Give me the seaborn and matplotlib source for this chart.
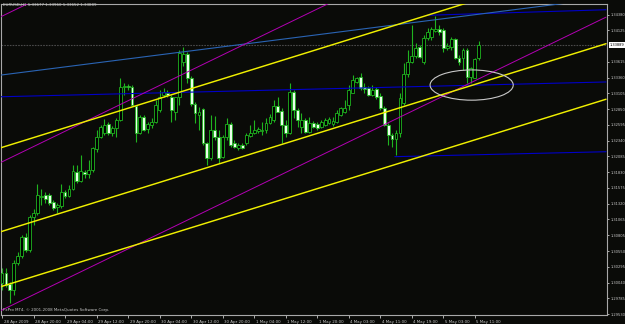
import matplotlib
matplotlib.use("Agg")
import numpy as np
import pandas as pd
import seaborn as sns
import matplotlib.pyplot as plt
import matplotlib.transforms as mtransforms
from matplotlib import font_manager
from matplotlib.patches import Ellipse

# ---------------- data (EURUSD H1) ----------------
opens = [1.3004, 1.3020, 1.3002, 1.2992, 1.3036, 1.3047, 1.3078, 1.3057, 1.3110, 1.3117,
         1.3143, 1.3146, 1.3146, 1.3135, 1.3127, 1.3128, 1.3151, 1.3144, 1.3156, 1.3183,
         1.3169, 1.3183, 1.3180, 1.3187, 1.3220, 1.3240, 1.3247, 1.3261, 1.3247, 1.3255,
         1.3268, 1.3321, 1.3323, 1.3321, 1.3290, 1.3247, 1.3272, 1.3253, 1.3260, 1.3264,
         1.3284, 1.3308, 1.3311, 1.3305, 1.3281, 1.3305, 1.3362, 1.3375, 1.3336, 1.3293,
         1.3276, 1.3285, 1.3230, 1.3206, 1.3251, 1.3240, 1.3208, 1.3240, 1.3261, 1.3230,
         1.3222, 1.3227, 1.3230, 1.3242, 1.3247, 1.3250, 1.3250, 1.3251, 1.3263, 1.3268,
         1.3290, 1.3282, 1.3260, 1.3247, 1.3313, 1.3284, 1.3256, 1.3268, 1.3248, 1.3263,
         1.3261, 1.3256, 1.3260, 1.3263, 1.3261, 1.3264, 1.3276, 1.3281, 1.3292, 1.3311,
         1.3329, 1.3337, 1.3321, 1.3319, 1.3308, 1.3318, 1.3306, 1.3287, 1.3260, 1.3243,
         1.3237, 1.3247, 1.3295, 1.3342, 1.3362, 1.3371, 1.3386, 1.3362, 1.3400, 1.3402,
         1.3412, 1.3415, 1.3413, 1.3384, 1.3386, 1.3399, 1.3368, 1.3368, 1.3381, 1.3337,
         1.3336, 1.33677]
highs = [1.3028, 1.3028, 1.3005, 1.3041, 1.3054, 1.3081, 1.3085, 1.3114, 1.3123, 1.3164,
         1.3156, 1.3151, 1.3149, 1.3138, 1.3133, 1.3164, 1.3154, 1.3162, 1.3195, 1.3195,
         1.3211, 1.3187, 1.3203, 1.3224, 1.3251, 1.3260, 1.3269, 1.3264, 1.3258, 1.3271,
         1.3336, 1.3328, 1.3326, 1.3324, 1.3292, 1.3276, 1.3276, 1.3264, 1.3271, 1.3300,
         1.3316, 1.3319, 1.3316, 1.3308, 1.3305, 1.3381, 1.3386, 1.3378, 1.3339, 1.3297,
         1.3289, 1.3287, 1.3232, 1.3276, 1.3274, 1.3251, 1.3243, 1.3271, 1.3264, 1.3235,
         1.3230, 1.3230, 1.3247, 1.3260, 1.3268, 1.3256, 1.3264, 1.3271, 1.3277, 1.3300,
         1.3305, 1.3287, 1.3268, 1.3328, 1.3316, 1.3287, 1.3279, 1.3271, 1.3272, 1.3266,
         1.3264, 1.3268, 1.3271, 1.3272, 1.3272, 1.3284, 1.3289, 1.3300, 1.3324, 1.3340,
         1.3337, 1.3344, 1.3328, 1.3323, 1.3324, 1.3321, 1.3311, 1.3290, 1.3263, 1.3247,
         1.3251, 1.3311, 1.3360, 1.3381, 1.3421, 1.3392, 1.3389, 1.3405, 1.3416, 1.3418,
         1.3436, 1.3421, 1.3416, 1.3392, 1.3402, 1.3400, 1.3373, 1.3384, 1.3384, 1.3353,
         1.3368, 1.33960]
lows = [1.2992, 1.2997, 1.2971, 1.2984, 1.3033, 1.3044, 1.3054, 1.3054, 1.3098, 1.3114,
        1.3130, 1.3133, 1.3130, 1.3122, 1.3117, 1.3125, 1.3141, 1.3143, 1.3154, 1.3166,
        1.3167, 1.3174, 1.3174, 1.3183, 1.3216, 1.3238, 1.3243, 1.3243, 1.3242, 1.3240,
        1.3266, 1.3308, 1.3316, 1.3290, 1.3232, 1.3245, 1.3250, 1.3247, 1.3255, 1.3263,
        1.3281, 1.3305, 1.3305, 1.3264, 1.3268, 1.3292, 1.3355, 1.3328, 1.3290, 1.3263,
        1.3251, 1.3227, 1.3195, 1.3203, 1.3235, 1.3198, 1.3206, 1.3235, 1.3224, 1.3222,
        1.3219, 1.3220, 1.3227, 1.3240, 1.3245, 1.3247, 1.3243, 1.3247, 1.3261, 1.3264,
        1.3281, 1.3230, 1.3240, 1.3245, 1.3271, 1.3256, 1.3247, 1.3247, 1.3247, 1.3255,
        1.3251, 1.3255, 1.3258, 1.3261, 1.3258, 1.3263, 1.3274, 1.3279, 1.3284, 1.3311,
        1.3328, 1.3316, 1.3311, 1.3306, 1.3306, 1.3302, 1.3284, 1.3258, 1.3227, 1.3224,
        1.3211, 1.3240, 1.3292, 1.3337, 1.3360, 1.3368, 1.3368, 1.3358, 1.3397, 1.3397,
        1.3410, 1.3405, 1.3378, 1.3381, 1.3381, 1.3366, 1.3357, 1.3349, 1.3328, 1.3328,
        1.3336, 1.33652]
closes = [1.3020, 1.3000, 1.2992, 1.3036, 1.3047, 1.3078, 1.3057, 1.3110, 1.3117, 1.3146,
          1.3144, 1.3140, 1.3133, 1.3125, 1.3130, 1.3151, 1.3144, 1.3156, 1.3185, 1.3169,
          1.3185, 1.3180, 1.3187, 1.3222, 1.3240, 1.3256, 1.3260, 1.3247, 1.3255, 1.3268,
          1.3321, 1.3323, 1.3321, 1.3292, 1.3247, 1.3272, 1.3251, 1.3261, 1.3264, 1.3292,
          1.3305, 1.3313, 1.3308, 1.3284, 1.3305, 1.3376, 1.3375, 1.3336, 1.3293, 1.3279,
          1.3281, 1.3230, 1.3206, 1.3251, 1.3240, 1.3206, 1.3240, 1.3261, 1.3227, 1.3224,
          1.3227, 1.3222, 1.3243, 1.3247, 1.3251, 1.3253, 1.3251, 1.3263, 1.3272, 1.3290,
          1.3281, 1.3260, 1.3247, 1.3313, 1.3284, 1.3268, 1.3268, 1.3248, 1.3263, 1.3256,
          1.3255, 1.3264, 1.3268, 1.3269, 1.3266, 1.3279, 1.3287, 1.3287, 1.3316, 1.3332,
          1.3336, 1.3319, 1.3318, 1.3308, 1.3316, 1.3305, 1.3287, 1.3260, 1.3243, 1.3237,
          1.3247, 1.3303, 1.3342, 1.3362, 1.3371, 1.3384, 1.3370, 1.3400, 1.3410, 1.3415,
          1.3415, 1.3410, 1.3384, 1.3387, 1.3399, 1.3368, 1.3362, 1.3381, 1.3337, 1.3352,
          1.3366, 1.33889]

time_labels = ["28 Apr 2009", "28 Apr 20:00", "29 Apr 04:00", "29 Apr 12:00", "29 Apr 20:00",
               "30 Apr 04:00", "30 Apr 12:00", "30 Apr 20:00", "1 May 04:00", "1 May 12:00",
               "1 May 20:00", "4 May 03:00", "4 May 11:00", "4 May 19:00", "5 May 03:00",
               "5 May 11:00"]
time_label_bars = [0, 8, 16, 24, 32, 40, 48, 56, 64, 72, 80, 88, 96, 104, 112, 120]
price_labels = ["1.29530", "1.29785", "1.30040", "1.30295", "1.30550", "1.30805", "1.31065",
                "1.31320", "1.31575", "1.31830", "1.32085", "1.32340", "1.32595", "1.32850",
                "1.33105", "1.33360", "1.33615", "1.34125", "1.34380"]
header = "EURUSD,H1 1.33677 1.33960 1.33652 1.33889"
copyright_text = "FxPro MT4, \u00a9 2001-2008 MetaQuotes Software Corp."
last_price = 1.33889

# trend objects drawn on the chart (bar index / price end points)
trend_kind = ["yellow", "yellow", "yellow", "magenta", "magenta", "magenta",
              "steel", "navy", "navy", "navy"]
trend_x0 = [-0.51, -0.51, -0.51, -0.51, -0.51, -0.51, -0.51, -0.51, 107.9, 99.7]
trend_y0 = [1.3222, 1.3086, 1.2997, 1.3434, 1.3198, 1.2958, 1.3340, 1.3305, 1.3437, 1.3208]
trend_x1 = [153.3] * 10
trend_y1 = [1.3527, 1.3391, 1.3301, 1.3911, 1.3674, 1.3434, 1.3465, 1.3329, 1.3446, 1.3216]
ellipse_center = (119.2, 1.3324)
ellipse_size = (21.1, 0.0049)

# ---------------- style ----------------
bg = "#0a0b08"
fg = "#c8c8c8"
green = "#1fb41f"
sns.set_style("dark", {"axes.facecolor": bg, "figure.facecolor": bg,
                       "axes.edgecolor": "#a8a8a8", "grid.color": bg})
names = {f.name for f in font_manager.fontManager.ttflist}
if "Liberation Sans Narrow" in names:
    fam = ["Liberation Sans Narrow", "DejaVu Sans"]
    fs = 4.0
    fs_y = 3.6
else:
    fam = ["DejaVu Sans"]
    fs = 2.9
    fs_y = 2.6
plt.rcParams["font.family"] = fam

fig = plt.figure(figsize=(6.25, 3.24), dpi=100)
ax = fig.add_axes([1 / 625, 9 / 324, 606 / 625, 311 / 324])
ax.set_facecolor(bg)

o = np.array(opens); h = np.array(highs); l = np.array(lows); c = np.array(closes)
idx = np.arange(len(o))
ax.vlines(idx, l, h, color=green, lw=0.8, zorder=2)
bull = c >= o
ax.bar(idx[bull], np.maximum(c[bull] - o[bull], 0.00004), bottom=o[bull], width=0.72,
       facecolor="#000000", edgecolor=green, lw=0.6, zorder=3)
ax.bar(idx[~bull], o[~bull] - c[~bull], bottom=c[~bull], width=0.72,
       facecolor="#eaffea", edgecolor=green, lw=0.6, zorder=3)

# bid line
ax.axhline(last_price, color="#4a4a4a", lw=0.8, ls=(0, (1.5, 1.0)), zorder=1)

# trend lines with seaborn
rows = []
for k, (kind, a0, b0, a1, b1) in enumerate(zip(trend_kind, trend_x0, trend_y0, trend_x1, trend_y1)):
    rows.append({"line": k, "kind": kind, "bar": a0, "price": b0})
    rows.append({"line": k, "kind": kind, "bar": a1, "price": b1})
tdf = pd.DataFrame(rows)
colors = {"yellow": "#f0f000", "magenta": "#b400b4", "steel": "#2a64b4", "navy": "#0000c8"}
widths = {"yellow": 1.05, "magenta": 0.7, "steel": 0.8, "navy": 0.8}
for kind in ["navy", "steel", "magenta", "yellow"]:
    sub = tdf[tdf["kind"] == kind]
    sns.lineplot(data=sub, x="bar", y="price", units="line", estimator=None, sort=False,
                 color=colors[kind], lw=widths[kind], ax=ax, legend=False, zorder=4)

ax.add_patch(Ellipse(ellipse_center, ellipse_size[0], ellipse_size[1], fill=False,
                     edgecolor="#c8c8c8", lw=0.8, zorder=5))

# axes limits mapping
ax.set_xlim(-0.254, 153.55)
ax.set_ylim(1.29515, 1.34553)
ax.set_xlabel("")
ax.set_ylabel("")
ax.grid(False)
for s in ax.spines.values():
    s.set_color("#a8a8a8")
    s.set_linewidth(0.8)

ax.yaxis.tick_right()
ax.set_yticks([float(p) for p in price_labels])
ax.set_yticklabels(price_labels)
ax.tick_params(axis="y", right=True, left=False, length=1.5, width=0.6, pad=0.8,
               colors=fg, labelsize=fs_y)
ax.set_xticks(time_label_bars)
ax.set_xticklabels(time_labels)
ax.tick_params(axis="x", bottom=True, length=2.5, width=0.6, pad=1.0, colors=fg, labelsize=fs)
offset = mtransforms.ScaledTranslation(1.5 / 100, 0, fig.dpi_scale_trans)
for lbl in ax.get_xticklabels():
    lbl.set_ha("left")
    lbl.set_transform(lbl.get_transform() + offset)

ax.text(1.004, last_price, f"{last_price:.5f}", transform=ax.get_yaxis_transform(),
        ha="left", va="center", fontsize=fs_y, color="#000000", clip_on=False,
        bbox=dict(boxstyle="square,pad=0.15", facecolor="#ffffff", edgecolor="none"), zorder=10)

fig.text(3 / 625, 1 - 5.5 / 324, header, ha="left", va="center", fontsize=fs, color=fg)
fig.text(3 / 625, 1 - 310.5 / 324, copyright_text, ha="left", va="center", fontsize=fs, color=fg)

fig.savefig("out.png", dpi=100, facecolor=bg)
